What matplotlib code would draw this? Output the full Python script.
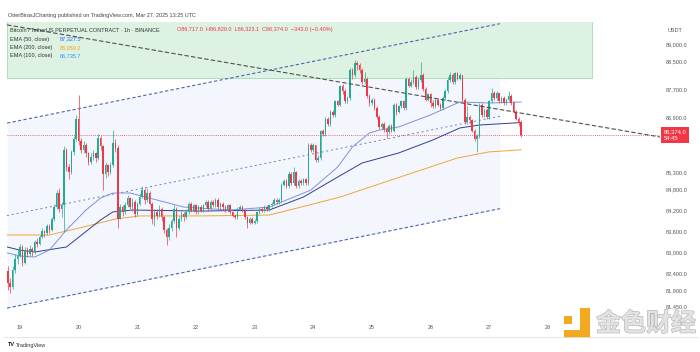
import numpy as np
import matplotlib
matplotlib.use("Agg")
import matplotlib.pyplot as plt
from matplotlib.patches import Rectangle
import matplotlib.patheffects as pe
import matplotlib.transforms as mtransforms

plt.rcParams['font.family'] = ['Liberation Sans', 'DejaVu Sans']

# BTCUSDT perp, 1h candles, Mar 18 19:00 -> Mar 27 13:00 UTC
# x axis = hours since Mar 19 00:00
first_hour = -5
first_open = 82450
closes = [
    82100, 82000, 82500, 82800, 82900, 83150, 82700, 83050, 82950, 83100, 83000, 83300,  # h-5..6
    83250, 83450, 83600, 83550, 83750, 83650, 83950, 84300, 84700, 84250, 84350, 85950,  # h7..18
    85450, 85300, 85900, 86250, 86850, 86200, 85950, 86100, 85850, 85600, 85750, 85850,  # h19..30
    85700, 86300, 86050, 85250, 85500, 85300, 85500, 86150, 86000, 83950, 84300, 84150,  # h31..42
    84350, 84550, 84300, 84450, 84100, 84400, 84600, 84800, 84500, 84700, 84400, 83950,  # h43..54
    84150, 84050, 84250, 84000, 83650, 83450, 83700, 83900, 84250, 83700, 83950, 84100,  # h55..66
    84000, 84150, 84400, 84200, 84350, 84150, 84300, 84200, 84350, 84450, 84250, 84450,  # h67..78
    84350, 84500, 84300, 84400, 84300, 84200, 84350, 84150, 84050, 84000, 84250, 84300,  # h79..90
    84200, 84000, 83850, 83950, 83850, 83900, 84150, 84250, 84200, 84300, 84250, 84350,  # h91..102
    84400, 84500, 84450, 84500, 84950, 85050, 84900, 85250, 85000, 85300, 84900, 85050,  # h103..114
    85000, 85100, 85000, 86100, 85950, 86100, 85650, 85700, 86500, 86400, 86850, 86700,  # h115..126
    87050, 86950, 87350, 87250, 87800, 87650, 87350, 87450, 88250, 88100, 88450, 88400,  # h127..138
    88250, 87900, 88000, 87500, 87300, 87400, 87150, 86900, 86600, 86700, 86550, 86450,  # h139..150
    86650, 86500, 87250, 87050, 87200, 87350, 87150, 88000, 87800, 87900, 88050, 87750,  # h151..162
    87950, 88100, 87700, 87400, 87550, 87300, 87200, 87400, 87250, 87150, 87450, 87650,  # h163..174
    87950, 88100, 87900, 88150, 88000, 88100, 87400, 86750, 86900, 86800, 86500, 86250,  # h175..186
    86350, 87250, 86950, 87100, 86900, 87350, 87600, 87450, 87600, 87350, 87450, 87300,  # h187..198
    87400, 87500, 87300, 87050, 86850, 86717, 86374,                                     # h199..205
]
highs = [
    82600, 82250, 82600, 82950, 83100, 83250, 83200, 83150, 83150, 83200, 83150, 83350,
    83400, 83500, 83700, 83650, 83800, 83800, 84000, 84400, 84800, 84850, 84450, 86050,
    86000, 85550, 85950, 86350, 86950, 87530, 86300, 86200, 86150, 85900, 85850, 85950,
    85900, 86400, 86350, 86100, 85600, 85550, 85600, 86520, 86250, 86100, 84400, 84350,
    84450, 84650, 84600, 84550, 84500, 84450, 84700, 84900, 84850, 84850, 84750, 84450,
    84250, 84250, 84350, 84300, 84050, 83700, 83800, 83950, 84360, 84300, 84050, 84200,
    84150, 84250, 84450, 84450, 84400, 84400, 84350, 84350, 84400, 84500, 84500, 84500,
    84500, 84560, 84550, 84450, 84450, 84350, 84400, 84400, 84200, 84100, 84300, 84350,
    84350, 84250, 84050, 84000, 84000, 83950, 84200, 84300, 84300, 84350, 84350, 84400,
    84450, 84550, 84550, 84550, 85000, 85100, 85100, 85350, 85300, 85450, 85350, 85100,
    85100, 85150, 85150, 86150, 86150, 86150, 86100, 85800, 86520, 86550, 86900, 86900,
    87100, 87100, 87400, 87400, 87820, 87850, 87700, 87500, 88310, 88300, 88550, 88500,
    88450, 88300, 88200, 88050, 87550, 87450, 87450, 87200, 86950, 86750, 86750, 86600,
    86700, 86700, 87300, 87300, 87250, 87400, 87400, 88050, 88050, 88000, 88250, 88100,
    88050, 88480, 88150, 87750, 87600, 87600, 87400, 87450, 87450, 87300, 87500, 87700,
    88050, 88200, 88150, 88200, 88200, 88150, 88100, 87450, 87200, 86950, 86850, 86550,
    86400, 87300, 87300, 87150, 87150, 87400, 87730, 87650, 87650, 87600, 87500, 87500,
    87450, 87650, 87550, 87350, 87100, 86900, 86820,
]
lows = [
    81900, 81820, 81950, 82400, 82650, 82850, 82600, 82650, 82850, 82900, 82900, 82950,
    83150, 83200, 83400, 83450, 83500, 83550, 83600, 83900, 84250, 84150, 84000, 83580,
    85350, 85100, 85250, 85800, 86200, 86100, 85850, 85850, 85750, 85500, 85550, 85650,
    85600, 85650, 85950, 84800, 85150, 85200, 85250, 85450, 85900, 83700, 83950, 84050,
    84100, 84300, 84250, 84200, 84000, 84050, 84350, 84550, 84400, 84450, 84350, 83800,
    83750, 83950, 84000, 83900, 83550, 83200, 83350, 83600, 83850, 83450, 83650, 83900,
    83900, 83950, 84100, 84150, 84150, 84100, 84100, 84150, 84150, 84300, 84200, 84200,
    84300, 84300, 84250, 84250, 84250, 84150, 84150, 84100, 84000, 83950, 83950, 84200,
    84150, 83950, 83700, 83800, 83800, 83800, 83850, 84100, 84150, 84150, 84200, 84200,
    84300, 84350, 84400, 84400, 84450, 84900, 84850, 84850, 84950, 84950, 84850, 84850,
    84950, 84950, 84950, 84950, 85900, 85900, 85600, 85600, 85650, 86350, 86350, 86650,
    86650, 86900, 86900, 87200, 87200, 87550, 87300, 87300, 87400, 88000, 88050, 88250,
    88150, 87850, 87850, 87450, 87200, 87250, 87100, 86850, 86550, 86550, 86450, 86300,
    86400, 86450, 86450, 86950, 87000, 87150, 87100, 87100, 87750, 87750, 87850, 87700,
    87700, 87900, 87650, 87350, 87350, 87180, 87150, 87150, 87200, 87100, 87100, 87400,
    87600, 87900, 87850, 87850, 87950, 87950, 87350, 86700, 86700, 86700, 86450, 86200,
    85880, 86300, 86900, 86900, 86850, 86850, 87300, 87400, 87400, 87300, 87300, 87250,
    87250, 87350, 87250, 87000, 86800, 86650, 86323.1,
]

# EMA values (hour, price)
ema50_x = [-5.3, 0, 6, 12, 19, 27, 33, 38, 45, 53, 67, 86, 102, 119, 130, 136, 143, 147, 155, 168, 180, 192, 205]
ema50 = [82980, 82890, 82860, 83060, 83640, 84215, 84560, 84705, 84705, 84560, 84300, 84215, 84300,
         84790, 85455, 86030, 86435, 86520, 86610, 86955, 87330, 87300, 87327.5]
ema100_x = [-5.3, 0, 6, 19, 33, 38, 46, 74, 102, 116, 130, 140, 155, 169, 180, 188, 205]
ema100 = [83150, 83060, 83005, 83150, 83930, 84160, 84215, 84185, 84215, 84590, 85165, 85570,
          85860, 86235, 86580, 86665, 86735.7]
ema200_x = [-5.3, 12, 24.5, 39, 49, 74, 102, 115, 131, 155.5, 179, 192, 205]
ema200 = [83495, 83495, 83700, 83955, 84045, 84045, 84070, 84300, 84590, 85165, 85715, 85890, 85950.2]

# drawings
chan_x = [-5.3, 196.4]
chan_upper = [86720, 89585]
chan_lower = [81390, 84255]
trend_x = [-5.3, 261.9]
trend_y = [89550, 86320]
box_x = [-5.3, 234.0]
box_y = [88020, 89700]

last_price = 86374.0
y_ticks = [89000, 88500, 87700, 86900, 85300, 84800, 84200, 83600, 83000, 82400, 81900, 81450]
day_labels = ['19', '20', '21', '22', '23', '24', '25', '26', '27', '28']

GREEN = '#22ab94'
RED = '#f23645'
W, H = 700, 352


def fx(x, y):
    return x / W, 1 - y / H


fig = plt.figure(figsize=(7, 3.52), dpi=100)
ax = fig.add_axes([7 / W, 1 - 318 / H, 653 / W, 296 / H])
ax.set_xlim(-5.32, 261.9)
ax.set_ylim(81103, 89634)

# parallel channel + rectangle
ax.fill_between(chan_x, chan_lower, chan_upper, color='#f3f7fd', lw=0, zorder=0)
ax.add_patch(Rectangle((box_x[0], box_y[0]), box_x[1] - box_x[0], box_y[1] - box_y[0],
                       facecolor='#ddf2e3', edgecolor='#a6dab4', lw=0.6, zorder=1))
ax.plot(chan_x, chan_upper, color='#4d65b0', lw=0.8, ls=(0, (3, 2)), zorder=2)
ax.plot(chan_x, chan_lower, color='#4d65b0', lw=0.8, ls=(0, (3, 2)), zorder=2)
chan_mid = [(a + b) / 2 for a, b in zip(chan_upper, chan_lower)]
ax.plot(chan_x, chan_mid, color='#6b7cc0', lw=0.7, ls=(0, (2, 3)), zorder=2)
ax.plot(trend_x, trend_y, color='#505050', lw=0.8, ls=(0, (4, 2)), zorder=6)

ax.axhline(last_price, color=RED, lw=0.6, ls=(0, (1, 1.5)), zorder=2)

# emas
ax.plot(ema200_x, ema200, color='#f2a33a', lw=0.7, zorder=3)
ax.plot(ema100_x, ema100, color='#2f3f8f', lw=0.7, zorder=3)
ax.plot(ema50_x, ema50, color='#7f91d8', lw=0.7, zorder=3)

# candles
c = np.array(closes, float)
o = np.r_[first_open, c[:-1]]
hi = np.maximum(np.array(highs, float), np.maximum(o, c))
lo = np.minimum(np.array(lows, float), np.minimum(o, c))
hours = np.arange(first_hour, first_hour + len(c))
cols = np.where(c >= o, GREEN, RED)
ax.vlines(hours, lo, hi, colors=cols, lw=0.5, zorder=4)
ax.bar(hours, np.maximum(np.abs(c - o), 15), bottom=np.minimum(o, c), width=0.62,
       color=cols, lw=0, zorder=5)

# axes styling
for s in ax.spines.values():
    s.set_visible(False)
ax.yaxis.tick_right()
ax.set_yticks(y_ticks)
ax.set_yticklabels([f"{v:,.1f}" for v in y_ticks])
ax.set_xticks(np.arange(len(day_labels)) * 24)
ax.set_xticklabels(day_labels)
ax.tick_params(axis='both', length=0, labelsize=4, labelcolor='#555555')
ax.tick_params(axis='y', pad=4)
ax.tick_params(axis='x', pad=5)

# last price label
tr = mtransforms.blended_transform_factory(ax.transAxes, ax.transData)
ax.text(1.006, last_price, "86,374.0\n54:45", transform=tr, fontsize=4.2, color='white',
        va='center', ha='left', linespacing=1.25,
        bbox=dict(boxstyle='square,pad=0.45', fc=RED, ec='none'), zorder=10, clip_on=False)

fig.text(*fx(668, 31), "USDT", fontsize=4, color='#555555', va='center')

# header + legend
fig.text(*fx(8, 16), "OtterBirasJCharting published on TradingView.com, Mar 27, 2025 13:25 UTC",
         fontsize=4, color='#444444', va='center')
fig.text(*fx(10, 30), "Bitcoin / TetherUS PERPETUAL CONTRACT · 1h · BINANCE",
         fontsize=4, color='#333333', va='center')
fig.text(*fx(177, 30), "O86,717.0  H86,820.0  L86,323.1  C86,374.0  −343.0 (−0.40%)",
         fontsize=4, color=RED, va='center')
legend_rows = [("EMA (50, close)", "87,327.5", '#2962ff', 39),
               ("EMA (200, close)", "85,950.2", '#f59f1b', 47.5),
               ("EMA (100, close)", "86,735.7", '#2f8ff0', 56)]
for name, val, col, yy in legend_rows:
    fig.text(*fx(10, yy), name, fontsize=4, color='#333333', va='center')
    fig.text(*fx(60, yy), val, fontsize=4, color=col, va='center')

# footer
fig.add_artist(plt.Line2D([4 / W, 698 / W], [1 - 337 / H, 1 - 337 / H],
                          transform=fig.transFigure, color='#e2e2e2', lw=0.6))
fig.text(*fx(8, 345), "TV", fontsize=4, fontweight='bold', color='#131722', va='center')
fig.text(*fx(16, 345), "TradingView", fontsize=4, color='#333333', va='center')

# watermark
for x0, y0, w, h in [(564, 316, 8, 8), (580, 308, 10, 30), (564, 330, 26, 8)]:
    fig.add_artist(Rectangle((x0 / W, 1 - (y0 + h) / H), w / W, h / H,
                             transform=fig.transFigure, fc='#f3a91f', ec='none'))
fig.text(*fx(596, 324), "金色财经", fontsize=18, color='#e2e2e2', va='center',
         family=['Noto Sans CJK SC', 'DejaVu Sans'], fontweight='bold',
         path_effects=[pe.withStroke(linewidth=0.9, foreground='#b8b8b8')])

fig.savefig("out.png", dpi=100)
